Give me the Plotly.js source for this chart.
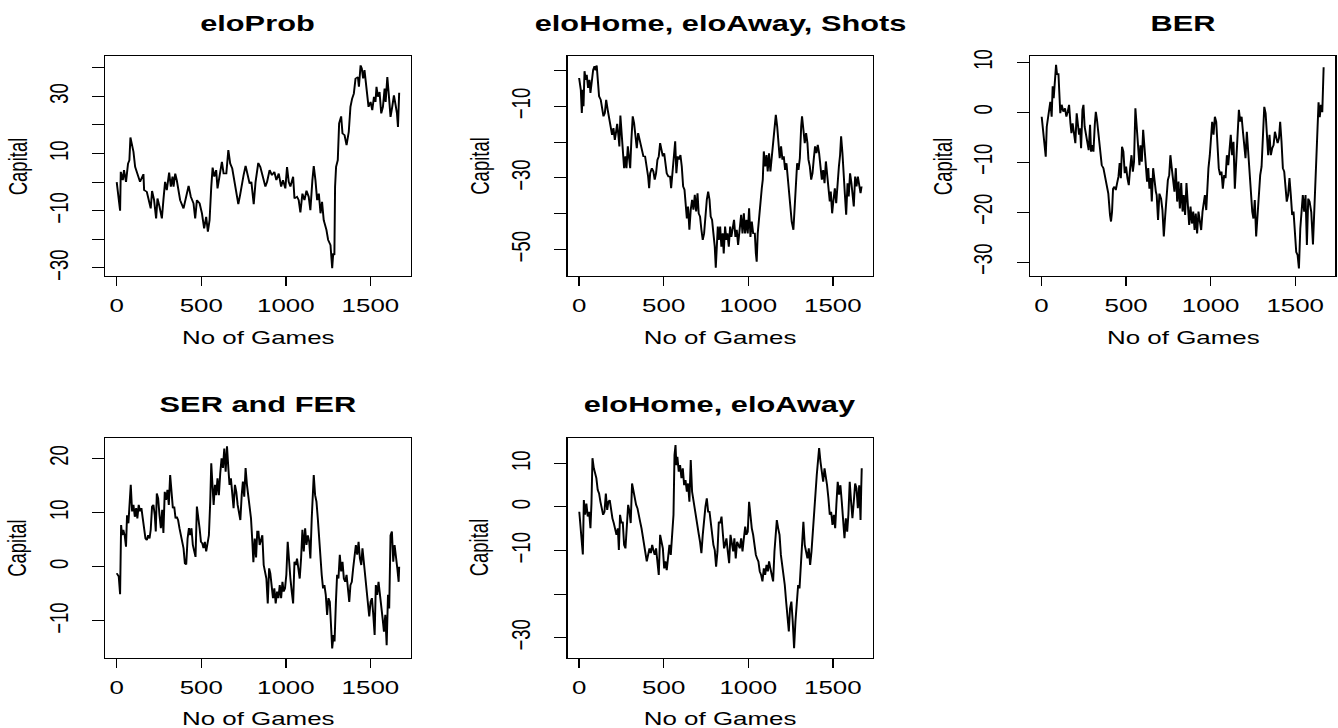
<!DOCTYPE html>
<html><head><meta charset="utf-8">
<script src="https://cdn.plot.ly/plotly-3.0.1.min.js"></script>
<style>
html,body{margin:0;padding:0;overflow:hidden;background:#fff;width:1338px;height:728px}
#wrap{width:1338px;height:728px;overflow:hidden;position:relative;background:#fff}
#chart{position:absolute;left:0;top:0;width:956px;height:728px;transform-origin:0 0;transform:scale(1.39958,1)}
</style></head><body><div id="wrap"><div id="chart"></div></div>
<script>
// ---------------- data ----------------
const titles = ['eloProb', 'eloHome, eloAway, Shots', 'BER', 'SER and FER', 'eloHome, eloAway'];
const xLabel = 'No of Games';
const yLabel = 'Capital';
const gameTicks = [0, 500, 1000, 1500];
const gameTickLabels = ['0', '500', '1000', '1500'];

const yTickVals = [
  [-30, -20, -10, 0, 10, 20, 30, 40],
  [-50, -40, -30, -20, -10, 0],
  [-30, -20, -10, 0, 10],
  [-10, 0, 10, 20],
  [-30, -20, -10, 0, 10]
];
const yTickLabels = [
  ['\u221230', '', '\u221210', '', '10', '', '30', ''],
  ['\u221250', '', '\u221230', '', '\u221210', ''],
  ['\u221230', '\u221220', '\u221210', '0', '10'],
  ['\u221210', '0', '10', '20'],
  ['\u221230', '', '\u221210', '0', '10']
];

// eloProb
const games1 = [0,20,24,36,43,55,67,75,81,99,109,122,138,158,162,178,190,201,209,221,233,241,253,267,276,286,296,310,320,330,336,346,355,375,395,407,425,438,454,464,474,490,504,517,529,539,549,559,567,577,588,596,608,622,632,648,660,671,683,695,707,719,731,742,750,762,774,786,796,810,821,837,849,865,879,889,904,918,932,944,958,972,983,997,1007,1017,1027,1043,1051,1066,1076,1086,1098,1110,1122,1135,1145,1157,1165,1175,1185,1195,1205,1214,1224,1240,1250,1264,1274,1280,1287,1291,1297,1307,1315,1327,1335,1347,1359,1372,1382,1392,1402,1412,1426,1432,1442,1449,1457,1465,1477,1489,1501,1511,1521,1530,1536,1544,1554,1564,1574,1584,1590,1600,1609,1619,1629,1639,1649,1657,1663,1670];
const capital1 = [0,-10,3.6,0.7,4.2,0.1,6.5,7.7,15.6,10.6,5.3,2.4,0.1,2.8,-2.8,-3.4,-6.3,-9.2,-3.1,-6.3,-12.7,-5.7,-8.6,-12.7,-6.3,0.1,-2.8,3.3,-1.6,1.9,-1.6,3.0,0.7,-6.3,-9.2,-6.3,-1.3,-5.1,-7.4,-12.7,-6.3,-7.4,-10.9,-16.2,-12.1,-17.3,-13.3,-1.6,5.1,1.9,4.2,-2.2,3.0,7.1,3.0,3.0,11.2,6.5,4.8,0.7,-4.0,-7.7,-4.0,0.7,2.4,5.7,1.9,-0.5,0.1,-7.7,0.1,6.7,5.3,0.7,-1.6,0.1,4.2,2.4,3.6,0.7,3.0,-1.6,0.7,-2.2,5.3,0.1,-1.6,1.9,-5.7,-5.1,-6.3,-10.6,-4.0,-6.3,-3.0,-5.1,-9.8,0.7,5.6,0.7,-6.3,-4.0,-10.9,-6.9,-13.3,-16.7,-20.2,-22.0,-30.1,-24.9,-25.5,-1.6,5.3,7.7,20.5,23.0,17.0,16.4,12.9,17.6,26.3,29.2,30.9,36.2,36.7,33.3,40.8,39.7,36.2,39.1,32.7,26.3,28.0,25.1,29.8,28.0,33.3,29.8,31.5,24.0,26.3,32.7,28.0,36.7,30.3,22.8,26.3,30.3,26.9,24.0,19.3,31.2];

// eloHome, eloAway, Shots
const games2 = [0,10,16,22,26,32,39,45,53,61,67,75,83,91,97,104,112,118,128,136,144,152,160,169,177,187,195,203,211,219,225,233,238,244,252,260,266,274,280,288,294,302,309,317,325,333,341,349,357,365,372,380,390,400,408,414,420,430,439,447,455,463,471,479,487,495,503,510,518,528,538,544,552,558,568,575,583,591,599,607,615,623,631,637,644,652,660,668,676,684,692,700,707,715,723,731,739,747,755,763,771,778,786,794,802,808,814,820,826,834,841,849,855,863,871,877,885,893,900,909,916,924,932,940,948,958,966,974,981,989,997,1005,1013,1021,1029,1039,1045,1050,1056,1064,1072,1080,1086,1092,1100,1108,1115,1123,1131,1139,1147,1155,1163,1171,1178,1186,1194,1202,1210,1218,1226,1234,1242,1249,1257,1267,1275,1283,1289,1297,1305,1313,1318,1326,1334,1342,1350,1356,1364,1372,1380,1387,1395,1403,1411,1419,1427,1435,1443,1451,1459,1466,1474,1482,1488,1496,1504,1512,1520,1528,1536,1543,1549,1557,1565,1571,1579,1587,1594,1602,1610,1616,1624,1632,1640,1648,1656,1664,1670];
const capital2 = [-2.1,-5.4,-11.9,-5.4,-10.0,-0.2,-2.6,-1.2,-4.9,-2.6,-6.3,-1.2,0.2,1.2,0.0,1.4,-3.5,-7.2,-8.2,-11.0,-12.8,-11.9,-8.2,-11.0,-13.8,-15.6,-18.0,-16.1,-19.4,-17.0,-14.9,-18.4,-21.2,-12.6,-19.4,-23.6,-27.3,-24.0,-27.3,-21.2,-25.9,-27.3,-19.4,-12.8,-14.7,-19.4,-21.7,-17.5,-19.4,-21.2,-23.1,-24.0,-24.0,-26.8,-29.6,-32.9,-28.7,-27.3,-28.2,-30.5,-28.7,-25.0,-24.0,-20.3,-22.2,-24.0,-23.1,-27.3,-28.7,-29.6,-29.6,-32.9,-28.7,-26.8,-19.8,-28.7,-24.0,-24.9,-23.6,-26.8,-32.4,-33.3,-37.1,-41.3,-38.0,-44.5,-38.9,-36.1,-38.9,-34.7,-39.4,-34.3,-39.9,-40.8,-44.5,-47.3,-45.5,-39.9,-36.1,-33.8,-36.1,-40.8,-41.7,-45.5,-49.2,-55.1,-47.3,-43.6,-47.3,-43.6,-49.2,-45.5,-51.1,-43.6,-47.3,-45.5,-49.2,-43.6,-46.5,-43.6,-41.7,-46.5,-44.5,-48.7,-43.6,-40.3,-45.5,-39.9,-45.5,-41.7,-45.5,-38.5,-46.5,-42.2,-45.5,-45.5,-51.1,-53.4,-45.5,-39.9,-38.0,-32.9,-30.5,-22.6,-26.8,-23.6,-28.2,-23.1,-28.2,-24.0,-22.2,-17.5,-12.4,-15.6,-19.4,-24.5,-21.2,-24.9,-24.0,-27.8,-25.9,-30.5,-33.3,-38.0,-42.2,-44.5,-38.0,-32.4,-25.9,-27.8,-24.5,-15.6,-12.8,-16.5,-20.3,-17.5,-20.3,-24.9,-26.8,-30.5,-28.7,-24.9,-21.2,-23.1,-20.8,-23.1,-26.8,-30.5,-27.8,-31.5,-25.4,-28.7,-32.4,-36.6,-33.8,-39.9,-36.1,-32.9,-37.1,-30.5,-26.8,-23.6,-18.4,-23.1,-27.8,-34.3,-40.3,-31.5,-35.2,-28.7,-31.5,-36.1,-38.0,-29.6,-32.4,-29.6,-33.3,-34.3,-32.4];

// BER
const games3 = [1,11,25,31,38,46,52,60,66,72,78,86,92,100,105,111,119,129,139,147,155,163,171,177,184,192,200,208,214,222,228,234,242,248,255,263,271,279,287,293,300,307,315,321,328,336,346,356,366,376,386,395,405,411,417,423,431,439,447,455,462,469,476,484,492,500,508,516,524,532,540,547,555,563,571,579,585,593,601,609,617,624,631,638,646,652,660,668,676,681,689,697,707,715,723,731,739,747,755,762,770,778,786,794,802,810,818,826,834,841,849,857,865,873,881,889,897,905,912,920,928,936,944,952,958,966,974,981,987,995,1003,1009,1017,1025,1033,1040,1048,1056,1064,1072,1080,1088,1096,1104,1111,1119,1127,1135,1143,1151,1159,1167,1175,1183,1191,1199,1206,1214,1222,1230,1238,1246,1253,1261,1269,1277,1285,1293,1301,1309,1317,1325,1333,1340,1348,1356,1364,1372,1380,1388,1396,1404,1411,1419,1427,1435,1442,1450,1458,1466,1474,1482,1490,1498,1506,1514,1522,1530,1538,1545,1553,1561,1569,1577,1585,1595,1605,1613,1622,1630,1638,1645,1652,1660,1668];
const capital3 = [-0.9,-3.9,-8.9,-2.9,-0.9,0.5,2.1,-0.9,5.2,2.8,7.5,9.5,7.5,7.8,4.1,-0.2,1.5,0.1,0.8,-0.9,0.1,1.5,-2.2,-4.2,-2.2,-4.5,-6.2,-0.2,-2.2,-4.5,-3.2,-7.2,0.5,1.5,-2.9,-4.5,-5.9,-7.6,-2.5,-7.9,-6.6,-7.9,-2.5,0.1,-1.5,-3.9,-7.9,-10.6,-11.2,-13.2,-14.2,-16.3,-20.6,-21.9,-19.9,-15.3,-14.9,-15.6,-14.2,-12.9,-10.2,-13.2,-6.9,-7.9,-12.2,-10.9,-13.2,-14.6,-11.2,-8.6,-11.9,-9.9,0.8,-3.5,-6.6,-10.6,-6.6,-9.9,-3.5,-7.9,-11.2,-13.9,-11.2,-15.3,-13.2,-17.9,-11.2,-14.6,-15.9,-16.6,-21.6,-16.3,-17.3,-19.6,-24.9,-20.9,-16.6,-13.6,-12.6,-8.6,-11.2,-13.2,-15.9,-11.2,-17.9,-13.9,-19.3,-14.2,-19.9,-16.6,-20.6,-14.2,-17.9,-22.6,-18.9,-22.3,-19.9,-23.6,-20.3,-24.3,-19.9,-21.9,-23.6,-19.9,-17.9,-16.6,-19.6,-13.9,-11.2,-8.6,-5.9,-1.9,-4.5,-0.9,-1.9,-7.2,-11.2,-12.6,-11.9,-15.3,-12.6,-13.2,-8.6,-10.6,-7.2,-4.5,-8.6,-5.9,-15.3,-8.6,-2.5,0.5,-1.9,-0.9,-3.9,-7.2,-9.2,-3.9,-8.6,-13.2,-16.6,-19.9,-21.3,-17.6,-24.9,-19.9,-14.6,-12.6,-10.9,-6.2,1.1,-0.2,-4.5,-8.6,-4.5,-8.6,-7.2,-6.6,-3.9,-5.2,-6.2,-5.2,-1.9,-5.9,-11.2,-11.9,-14.6,-17.9,-16.6,-13.2,-16.6,-20.6,-19.9,-23.3,-28.0,-28.6,-31.3,-23.3,-19.9,-16.6,-19.9,-16.6,-26.6,-17.3,-17.9,-20.0,-26.5,-20.0,-13.0,-4.0,2.0,-1.0,1.5,0.0,9.0];

// SER and FER
const games4 = [0,12,20,26,32,39,47,55,61,69,77,83,91,99,107,115,122,130,138,146,154,162,170,178,186,194,201,209,217,225,231,237,245,253,261,269,276,284,292,300,308,316,324,332,340,348,355,363,371,379,387,395,403,411,419,427,434,442,450,458,466,474,482,490,498,506,513,521,529,537,545,553,559,565,573,581,588,596,604,612,620,628,636,644,652,660,667,675,683,691,699,707,715,723,731,739,746,754,762,770,778,786,794,802,808,816,824,831,838,845,853,861,869,877,885,893,901,908,916,924,932,940,948,956,964,972,980,987,995,1003,1011,1019,1027,1035,1043,1051,1059,1066,1074,1082,1090,1098,1106,1114,1122,1130,1138,1145,1153,1157,1165,1173,1181,1189,1197,1204,1212,1220,1228,1236,1244,1252,1260,1268,1274,1282,1288,1296,1303,1311,1319,1327,1335,1343,1351,1359,1367,1375,1382,1390,1398,1406,1414,1422,1430,1438,1446,1453,1461,1469,1477,1485,1493,1501,1509,1517,1525,1532,1540,1548,1556,1564,1572,1580,1588,1596,1604,1611,1619,1627,1635,1643,1651,1659,1667,1670];
const capital4 = [-1.2,-1.8,-5.1,7.7,5.8,6.8,5.8,3.7,9.5,8.0,12.0,15.1,10.2,11.4,9.2,10.8,8.9,11.4,10.2,10.8,8.9,6.8,5.2,4.9,5.8,5.2,6.8,11.1,11.4,9.5,6.5,13.5,12.6,9.5,7.1,10.5,6.2,13.8,12.3,14.2,11.4,16.9,14.5,10.8,11.1,8.9,9.2,8.6,7.1,5.8,4.6,3.4,0.6,0.4,5.2,7.1,5.8,7.1,4.0,3.1,1.8,11.1,9.5,7.1,4.6,4.3,3.4,4.6,2.8,4.0,5.8,12.0,19.1,15.7,11.4,15.1,13.2,16.3,13.2,17.2,20.0,18.2,21.8,17.5,22.2,18.2,15.1,16.3,13.8,10.8,15.1,13.8,11.4,10.2,8.6,13.2,15.7,12.9,18.2,15.1,12.6,12.0,8.9,4.6,0.8,5.2,1.7,6.5,6.5,4.0,5.2,5.8,0.3,-0.9,-2.2,-6.8,-0.3,-1.2,-4.0,-5.8,-4.0,-6.8,-4.6,-5.8,-3.4,-5.8,-2.8,-4.6,-4.0,-1.5,4.6,-0.3,-2.2,-4.6,-6.8,0.9,0.3,1.5,-0.3,-2.2,1.5,6.8,2.8,7.1,4.0,5.8,4.6,1.5,8.9,10.8,16.9,13.2,12.0,8.9,4.6,0.9,-1.5,-4.0,-3.4,-5.2,-8.9,-5.8,-6.5,-11.4,-15.1,-12.6,-13.8,-6.5,-1.5,-2.2,2.2,-0.9,0.9,-2.2,-2.8,-1.5,-4.6,-6.5,-3.4,-2.8,-0.3,2.2,4.0,2.2,4.6,1.5,0.3,3.4,0.9,-1.5,-2.8,-5.8,-9.2,-6.5,-5.8,-8.9,-12.6,-3.4,-5.2,-2.8,-4.6,-6.5,-9.5,-12.0,-8.9,-14.5,-5.2,-7.7,5.8,6.5,0.9,4.0,0.9,-0.3,-2.8,0.0];

// eloHome, eloAway
const games5 = [1,12,22,28,35,43,51,59,67,73,79,87,95,102,110,118,126,134,142,150,158,166,173,181,189,197,205,213,221,229,235,242,250,258,266,274,282,290,298,305,313,321,329,337,345,353,361,369,376,384,392,400,408,416,424,432,439,447,455,463,471,479,487,495,503,510,518,526,534,542,550,558,564,570,575,581,589,597,605,613,621,629,637,644,652,660,668,676,684,692,700,708,715,723,731,739,747,755,763,771,778,786,794,802,810,818,826,834,842,849,857,863,871,879,887,895,903,911,918,926,934,942,950,958,966,974,982,989,997,1005,1013,1021,1029,1037,1045,1052,1060,1068,1076,1084,1092,1100,1108,1116,1123,1131,1139,1147,1155,1163,1169,1177,1185,1193,1200,1208,1216,1224,1232,1240,1247,1255,1263,1271,1279,1287,1295,1303,1311,1318,1326,1334,1342,1350,1358,1366,1374,1382,1390,1397,1405,1413,1419,1427,1435,1443,1451,1459,1466,1474,1482,1490,1498,1506,1514,1521,1529,1537,1545,1553,1561,1569,1577,1585,1592,1600,1608,1616,1624,1632,1640,1648,1656,1664,1668,1671];
const capital5 = [-1.1,-6.4,-10.9,1.6,-1.8,0.8,-2.2,-1.1,-4.9,0.8,11.2,8.9,7.7,6.6,3.9,3.1,1.2,-0.3,-1.8,-1.1,3.1,-0.7,1.2,1.6,-1.1,-2.6,-3.7,-4.9,-6.4,-4.9,-9.9,-1.8,-3.7,-3.4,-8.7,-9.5,-3.4,0.5,-1.1,-3.7,5.4,3.5,2.0,0.5,-0.3,-1.5,-3.4,-4.9,-6.4,-8.0,-9.9,-12.5,-11.0,-9.5,-10.6,-8.7,-9.9,-11.0,-9.5,-14.1,-15.6,-6.4,-8.0,-9.5,-14.1,-12.5,-14.5,-10.2,-8.7,-11.0,-7.2,-1.8,11.9,14.2,9.6,11.5,8.1,9.6,6.6,8.9,5.0,6.2,3.5,5.4,1.2,10.8,3.5,1.2,0.5,-1.8,-4.1,-6.4,-8.0,-10.6,-6.4,-1.8,0.1,2.0,-1.1,-1.1,-3.7,-6.4,-8.7,-9.9,-13.7,-10.2,-3.4,-3.7,-2.2,-5.7,-9.5,-8.7,-7.2,-10.2,-12.9,-6.4,-9.5,-10.2,-7.2,-11.8,-8.0,-8.7,-9.5,-7.2,-10.2,-7.2,-4.5,-6.4,-5.7,1.2,-2.6,-4.9,-6.4,-9.5,-11.0,-11.8,-12.5,-14.8,-15.6,-17.1,-14.1,-15.6,-13.3,-14.8,-12.5,-14.1,-15.6,-17.1,-10.2,-5.7,-3.0,-4.9,-6.4,-11.0,-13.3,-14.1,-17.9,-21.7,-26.3,-28.6,-23.3,-21.7,-26.3,-32.4,-26.3,-22.5,-17.9,-18.7,-13.3,-7.2,-3.4,-8.7,-10.2,-11.8,-9.5,-13.3,-10.2,-4.1,-0.3,2.8,7.3,11.9,13.5,10.4,8.1,5.8,8.9,7.3,5.0,2.0,-1.8,-1.1,-4.1,-1.8,-4.9,0.5,5.8,2.8,5.0,1.2,-2.6,-7.2,-2.6,-5.7,-1.8,5.8,1.2,-2.6,1.2,5.4,4.3,-0.3,5.0,-3.0,4.3,8.9];

const games = [games1, games2, games3, games4, games5];
const capital = [capital1, capital2, capital3, capital4, capital5];
const yRanges = [[-32.8, 43.95], [-57.4, 3.96], [-32.8, 11.2], [-16.8, 23.8], [-34.6, 15.9]];
const xRange = [-67.5, 1737.6];

// ---------------- layout (pixel positions in the 1338x728 picture) ----------------
const W = 1338, H = 728;
const FONT = 'Liberation Sans, Arial, Helvetica, sans-serif';
const boxX = [[105.3, 410.6], [567.7, 873.0], [1030.1, 1335.4], [105.3, 410.6], [567.7, 873.0]];
const boxY = [[56.3, 276], [56.3, 276], [56.3, 276], [437.7, 657.7], [437.7, 657.7]];
const titleY = [23, 23, 23, 404.5, 404.5];
const xlabY = [337, 337, 337, 718.5, 718.5];
const ylabX = [17, 479.5, 942, 17, 479.5];

const traces = [];
const layout = {
  width: 956, height: 728,
  margin: {l: 0, r: 0, t: 0, b: 0},
  paper_bgcolor: '#fff', plot_bgcolor: '#fff',
  showlegend: false,
  font: {family: FONT, color: '#000'},
  annotations: []
};

for (let i = 0; i < 5; i++) {
  const n = i + 1;
  const xa = 'x' + (n === 1 ? '' : n), ya = 'y' + (n === 1 ? '' : n);
  traces.push({
    x: games[i], y: capital[i], type: 'scatter', mode: 'lines',
    line: {color: '#000', width: 1.4},
    xaxis: xa, yaxis: ya, hoverinfo: 'skip'
  });
  const xd = [boxX[i][0] / W, boxX[i][1] / W];
  const yd = [1 - boxY[i][1] / H, 1 - boxY[i][0] / H];
  layout['xaxis' + (n === 1 ? '' : n)] = {
    domain: xd, anchor: ya, range: xRange,
    tickmode: 'array', tickvals: gameTicks, ticktext: gameTickLabels,
    ticks: 'outside', ticklen: 9, tickwidth: 1, tickcolor: '#000',
    showline: true, mirror: true, linecolor: '#000', linewidth: 1,
    showgrid: false, zeroline: false,
    tickfont: {family: FONT, size: 18.5, color: '#000'},
    ticklabelstandoff: 4
  };
  layout['yaxis' + (n === 1 ? '' : n)] = {
    domain: yd, anchor: xa, range: yRanges[i],
    tickmode: 'array', tickvals: yTickVals[i], ticktext: yTickLabels[i],
    ticks: 'outside', ticklen: 8.6, tickwidth: 1, tickcolor: '#000',
    tickangle: -90,
    showline: true, mirror: true, linecolor: '#000', linewidth: 1,
    showgrid: false, zeroline: false,
    tickfont: {family: FONT, size: 18.5, color: '#000'},
    ticklabelstandoff: 10
  };
  const cx = (boxX[i][0] + boxX[i][1]) / 2 / W;
  const cy = (boxY[i][0] + boxY[i][1]) / 2;
  layout.annotations.push({
    text: titles[i], xref: 'paper', yref: 'paper', x: cx, y: 1 - titleY[i] / H,
    xanchor: 'center', yanchor: 'middle', showarrow: false,
    font: {family: FONT, size: 22, color: '#000', weight: 700}
  });
  layout.annotations.push({
    text: xLabel, xref: 'paper', yref: 'paper', x: cx, y: 1 - xlabY[i] / H,
    xanchor: 'center', yanchor: 'middle', showarrow: false,
    font: {family: FONT, size: 18.5, color: '#000'}
  });
  layout.annotations.push({
    text: yLabel, xref: 'paper', yref: 'paper', x: ylabX[i] / W, y: 1 - cy / H,
    xanchor: 'center', yanchor: 'middle', showarrow: false, textangle: -90,
    font: {family: FONT, size: 18.5, color: '#000'}
  });
}

Plotly.newPlot('chart', traces, layout, {displayModeBar: false, staticPlot: true});
</script>
</body></html>
